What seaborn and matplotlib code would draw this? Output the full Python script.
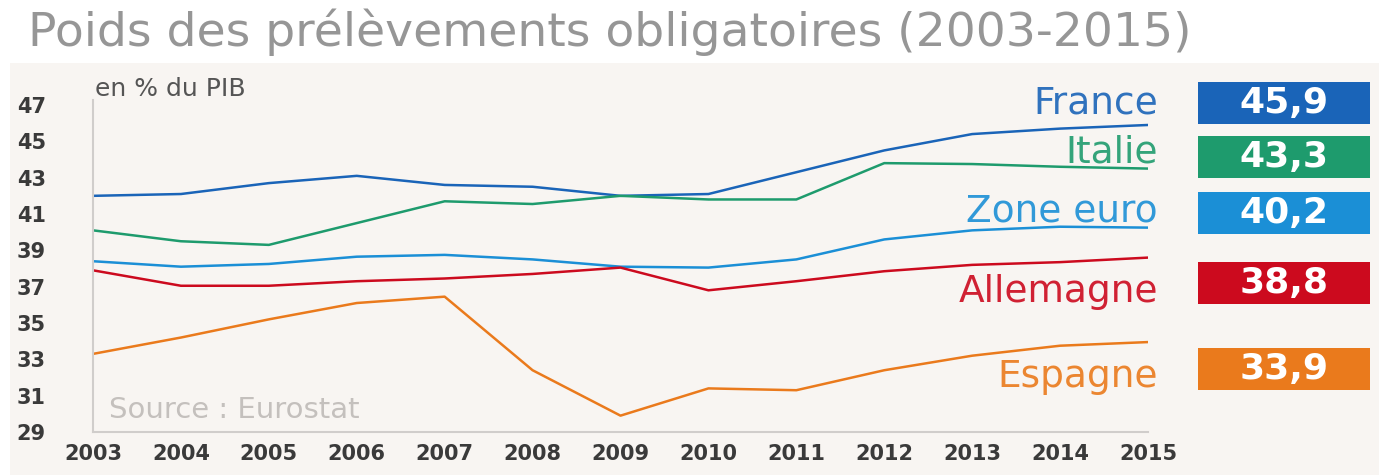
import matplotlib
matplotlib.use('Agg')
import matplotlib.pyplot as plt
import pandas as pd
import seaborn as sns
from matplotlib.patches import Rectangle

# data (% du PIB)
years = list(range(2003, 2016))
france = [42.0, 42.1, 42.7, 43.1, 42.6, 42.5, 42.0, 42.1, 43.3, 44.5, 45.4, 45.7, 45.9]
italie = [40.1, 39.5, 39.3, 40.5, 41.7, 41.55, 42.0, 41.8, 41.8, 43.8, 43.75, 43.6, 43.5]
zone_euro = [38.4, 38.1, 38.25, 38.65, 38.75, 38.5, 38.1, 38.05, 38.5, 39.6, 40.1, 40.3, 40.25]
allemagne = [37.9, 37.05, 37.05, 37.3, 37.45, 37.7, 38.05, 36.8, 37.3, 37.85, 38.2, 38.35, 38.6]
espagne = [33.3, 34.2, 35.2, 36.1, 36.45, 32.4, 29.9, 31.4, 31.3, 32.4, 33.2, 33.75, 33.95]

series = ['France', 'Italie', 'Zone euro', 'Allemagne', 'Espagne']
last_values = ['45,9', '43,3', '40,2', '38,8', '33,9']
colors = ['#1a64b8', '#1e9b6d', '#1b8fd6', '#cc0a1e', '#ea7a1c']
yticks = list(range(29, 48, 2))

df = pd.DataFrame({
    'annee': years * 5,
    'valeur': france + italie + zone_euro + allemagne + espagne,
    'pays': [s for s in series for _ in years],
})

sns.set_style('white')
plt.rcParams['font.family'] = ['DejaVu Sans']

fig = plt.figure(figsize=(13.79, 4.75), dpi=100)
fig.patch.set_facecolor('white')

# beige panel behind the chart
fig.patches.append(Rectangle((10 / 1379, 0), 1 - 10 / 1379, 1 - 63 / 475,
                             transform=fig.transFigure, facecolor='#f8f5f2',
                             edgecolor='none', zorder=-10))

ax = fig.add_axes([93 / 1379, 1 - 432 / 475, (1148 - 93) / 1379, (432 - 105) / 475])
ax.set_facecolor('none')
ax.set_zorder(1)

sns.lineplot(data=df, x='annee', y='valeur', hue='pays', hue_order=series,
             palette=colors, linewidth=1.8, legend=False, ax=ax)

ax.set_xlim(2003, 2015)
ax.set_ylim(29, 47)
ax.set_xticks(years)
ax.set_yticks(yticks)
ax.set_xlabel('')
ax.set_ylabel('')
for s in ['top', 'right']:
    ax.spines[s].set_visible(False)
for s in ['left', 'bottom']:
    ax.spines[s].set_color('#d0cdcb')
    ax.spines[s].set_linewidth(1.5)
ax.spines['left'].set_bounds(29, 47.3)
ax.tick_params(axis='both', length=0, colors='#3a3a3a', labelsize=15)
ax.tick_params(axis='x', pad=9)
ax.tick_params(axis='y', pad=34)
for lab in ax.get_xticklabels() + ax.get_yticklabels():
    lab.set_fontweight('bold')

# title and annotations
fig.text(28 / 1379, 1 - 32 / 475, 'Poids des prélèvements obligatoires (2003-2015)',
         fontsize=34, color='#969696', family='DejaVu Sans', va='center', ha='left')
ax.text(2003.02, 47.9, 'en % du PIB', fontsize=18, color='#555555', va='center')
ax.text(2003.18, 30.2, 'Source : Eurostat', fontsize=21, color='#c4c0bd', va='center')

# series labels and final-value boxes (figure pixel positions)
label_y = [103, 153, 212, 292, 377]
box_y = [103, 157, 213, 283, 369]
for name, val, col, ly, by in zip(series, last_values, colors, label_y, box_y):
    fig.text(1158 / 1379, 1 - ly / 475, name, fontsize=27, color=col,
             ha='right', va='center', alpha=0.9)
    fig.patches.append(Rectangle((1198 / 1379, 1 - (by + 21) / 475), 172 / 1379, 42 / 475,
                                 transform=fig.transFigure, facecolor=col,
                                 edgecolor='none', zorder=2))
    fig.text(1284 / 1379, 1 - by / 475, val, fontsize=26, color='white',
             fontweight='bold', ha='center', va='center', zorder=3)

fig.savefig('out.png', dpi=100)
